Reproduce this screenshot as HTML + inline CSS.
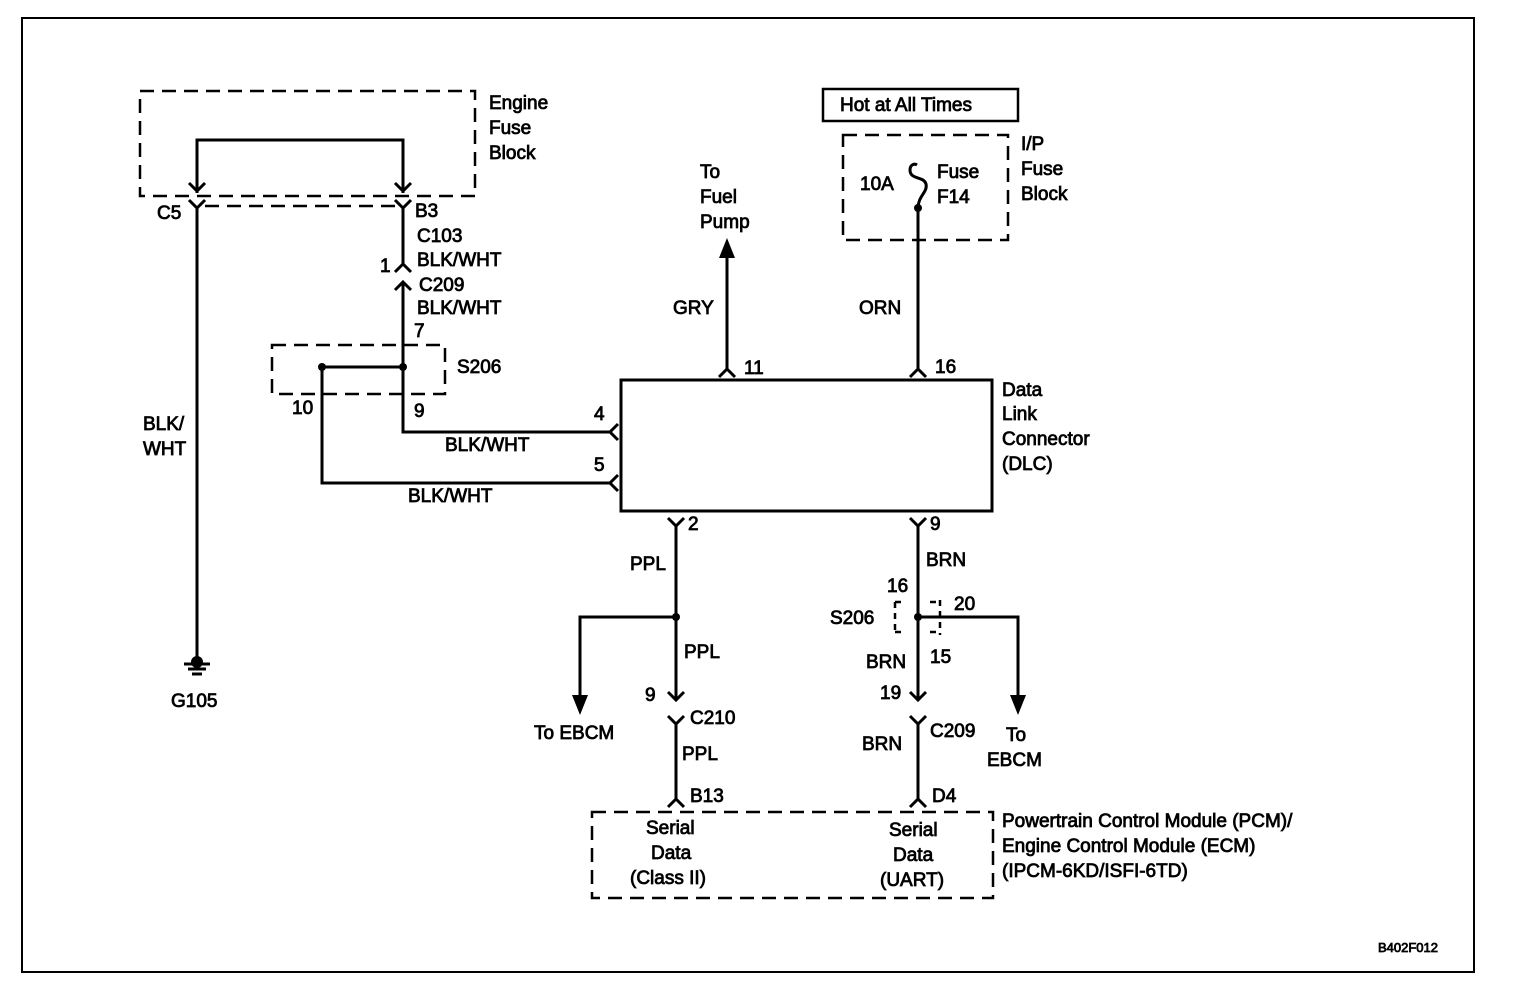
<!DOCTYPE html>
<html><head><style>
body{margin:0;background:#fff}
svg text{font-family:"Liberation Sans",Arial,sans-serif;font-size:19px;fill:#000;stroke:#000;stroke-width:0.8}
</style></head><body>
<svg width="1520" height="998" viewBox="0 0 1520 998">
<g fill="none" stroke="#000" stroke-width="2">
<rect x="22" y="18" width="1452" height="954"/>
<rect x="823" y="89" width="195" height="32" stroke-width="2.5"/>
</g>
<g fill="none" stroke="#000" stroke-width="2.5" stroke-dasharray="14,8">
<path d="M140 91H475V196H140Z"/>
<path d="M205 206H397"/>
<path d="M272 345H445V394H272Z"/>
<path d="M843 135H1008V240H843Z"/>
<path d="M592 812H993V898H592Z"/>
<path d="M895 602V632M940 600V635M895 602H905M895 632H905M930 602H940M930 632H940" stroke-dasharray="6,5"/>
</g>
<g fill="none" stroke="#000" stroke-width="3">
<path d="M197 193V140H403V193"/>
<path d="M189 183L197 191L205 183M395 183L403 191L411 183"/>
<path d="M189 200L197 208L205 200M395 200L403 208L411 200"/>
<path d="M197 208V660"/>
<path d="M403 208V265M395 272L403 264L411 272"/>
<path d="M395 290L403 282L411 290M403 283V432H610"/>
<path d="M322 367H403M322 367V483H610"/>
<path d="M618 424L610 432L618 440M618 475L610 483L618 491"/>
<path d="M184 664H210M188 669H206M192 674H202"/>
<rect x="621" y="380" width="371" height="131"/>
<path d="M727 370V250M719 377L727 369L735 377"/>
<path d="M918 370V208M910 377L918 369L926 377"/>
<path d="M918 208C918 196 928 192 926 184C924 176 910 180 910 170C910 165 914 163 917 165"/>
<path d="M668 518L676 526L684 518M676 526V700M668 692L676 700L684 692"/>
<path d="M676 617H580V695"/>
<path d="M668 716L676 724L684 716M676 724V800M668 807L676 799L684 807"/>
<path d="M910 518L918 526L926 518M918 526V700M910 692L918 700L926 692"/>
<path d="M918 617H1018V695"/>
<path d="M910 716L918 724L926 716M918 724V800M910 807L918 799L926 807"/>
</g>
<g fill="#000">
<circle cx="403" cy="367" r="4"/><circle cx="322" cy="367" r="4"/>
<circle cx="918" cy="208" r="4"/>
<circle cx="676" cy="617" r="4"/><circle cx="918" cy="617" r="4"/>
<circle cx="197" cy="662" r="6"/>
<path d="M719 258L727 238L735 258Z"/>
<path d="M572 695L588 695L580 715Z"/>
<path d="M1010 695L1026 695L1018 715Z"/>
</g>
<text x="489" y="109">Engine</text><text x="489" y="134">Fuse</text><text x="489" y="159">Block</text>
<text x="157" y="219">C5</text><text x="415" y="217">B3</text>
<text x="417" y="242">C103</text><text x="417" y="266">BLK/WHT</text>
<text x="380" y="272">1</text><text x="419" y="291">C209</text>
<text x="417" y="314">BLK/WHT</text><text x="414" y="337">7</text>
<text x="457" y="373">S206</text><text x="292" y="414">10</text><text x="414" y="417">9</text>
<text x="143" y="430">BLK/</text><text x="143" y="455">WHT</text>
<text x="445" y="451">BLK/WHT</text><text x="408" y="502">BLK/WHT</text>
<text x="594" y="420">4</text><text x="594" y="471">5</text>
<text x="171" y="707">G105</text>
<text x="700" y="178">To</text><text x="700" y="203">Fuel</text><text x="700" y="228">Pump</text>
<text x="673" y="314">GRY</text><text x="744" y="374">11</text>
<text x="840" y="111">Hot at All Times</text>
<text x="860" y="190">10A</text><text x="937" y="178">Fuse</text><text x="937" y="203">F14</text>
<text x="1021" y="150">I/P</text><text x="1021" y="175">Fuse</text><text x="1021" y="200">Block</text>
<text x="859" y="314">ORN</text><text x="935" y="373">16</text>
<text x="1002" y="396">Data</text><text x="1002" y="420">Link</text><text x="1002" y="445">Connector</text><text x="1002" y="470">(DLC)</text>
<text x="688" y="530">2</text><text x="930" y="530">9</text>
<text x="630" y="570">PPL</text><text x="926" y="566">BRN</text>
<text x="887" y="592">16</text><text x="954" y="610">20</text>
<text x="830" y="624">S206</text>
<text x="684" y="658">PPL</text><text x="866" y="668">BRN</text><text x="930" y="663">15</text>
<text x="645" y="701">9</text><text x="880" y="699">19</text>
<text x="690" y="724">C210</text><text x="930" y="737">C209</text>
<text x="534" y="739">To EBCM</text>
<text x="1006" y="741">To</text><text x="987" y="766">EBCM</text>
<text x="682" y="760">PPL</text><text x="862" y="750">BRN</text>
<text x="690" y="802">B13</text><text x="932" y="802">D4</text>
<text x="646" y="834">Serial</text><text x="651" y="859">Data</text><text x="630" y="884">(Class II)</text>
<text x="889" y="836">Serial</text><text x="893" y="861">Data</text><text x="880" y="886">(UART)</text>
<text x="1002" y="827">Powertrain Control Module (PCM)/</text>
<text x="1002" y="852">Engine Control Module (ECM)</text>
<text x="1002" y="877">(IPCM-6KD/ISFI-6TD)</text>
<text x="1378" y="952" style="font-size:13px">B402F012</text>
</svg>
</body></html>
